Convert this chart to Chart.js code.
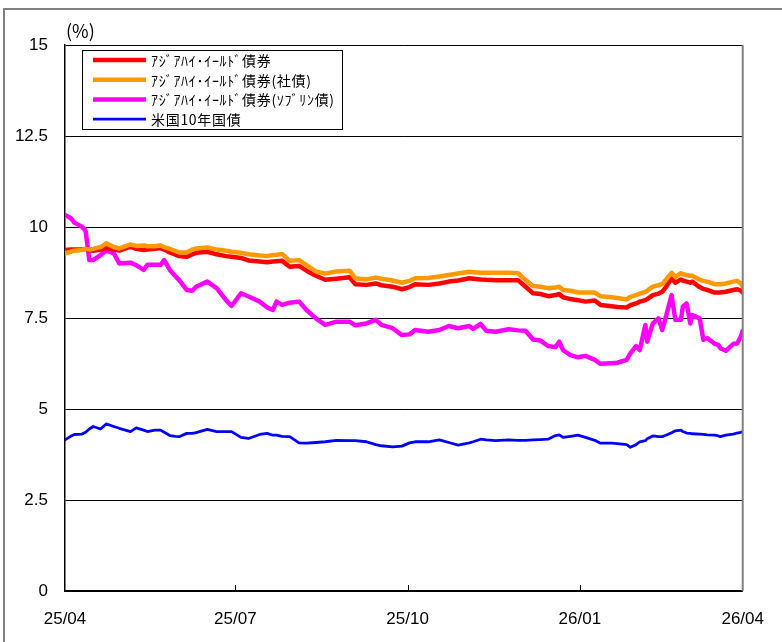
<!DOCTYPE html>
<html><head><meta charset="utf-8">
<script src="https://cdn.jsdelivr.net/npm/chart.js@4"></script>
<style>html,body{margin:0;padding:0;background:#fff;}canvas{display:block;}</style>
</head><body>
<canvas id="c" width="782" height="642"></canvas>
<script>
// x positions: days since 2025-04 start
const days = [0,3,5,9,11,13,15,19,22,26,29,35,38,42,44,48,51,53,56,59,61,65,68,70,76,81,86,89,94,98,104,108,111,113,116,120,125,129,134,139,145,152,155,161,166,169,175,180,184,187,194,200,205,210,216,218,222,225,230,237,242,246,250,254,258,262,264,266,270,274,278,283,286,292,295,300,302,305,307,310,311,314,317,319,321,324,326,329,330,332,334,335,339,341,343,347,349,350,353,357,359,361,362];
const asiaHY = [9.37,9.38,9.38,9.38,9.40,9.36,9.35,9.38,9.43,9.38,9.35,9.46,9.40,9.37,9.38,9.40,9.42,9.38,9.30,9.24,9.20,9.18,9.25,9.29,9.32,9.25,9.20,9.18,9.15,9.08,9.05,9.03,9.05,9.06,9.07,8.91,8.93,8.80,8.66,8.55,8.58,8.62,8.43,8.41,8.45,8.40,8.36,8.29,8.35,8.43,8.41,8.45,8.50,8.53,8.59,8.58,8.56,8.55,8.54,8.54,8.54,8.36,8.18,8.16,8.10,8.13,8.16,8.07,8.02,7.99,7.95,7.98,7.86,7.82,7.80,7.79,7.85,7.90,7.95,7.99,8.02,8.13,8.17,8.22,8.35,8.59,8.47,8.56,8.53,8.50,8.47,8.50,8.35,8.30,8.27,8.20,8.20,8.20,8.22,8.27,8.29,8.25,8.20];
const asiaHYCorp = [9.28,9.32,9.35,9.37,9.40,9.38,9.40,9.45,9.55,9.45,9.41,9.52,9.48,9.49,9.47,9.47,9.49,9.45,9.40,9.34,9.30,9.30,9.38,9.41,9.44,9.38,9.35,9.32,9.29,9.25,9.22,9.20,9.23,9.24,9.26,9.07,9.09,8.95,8.78,8.72,8.78,8.80,8.59,8.56,8.61,8.58,8.53,8.47,8.52,8.59,8.60,8.64,8.68,8.72,8.77,8.76,8.74,8.74,8.74,8.74,8.73,8.54,8.38,8.36,8.32,8.34,8.36,8.27,8.25,8.20,8.20,8.20,8.10,8.07,8.05,8.01,8.08,8.13,8.17,8.22,8.25,8.36,8.40,8.43,8.55,8.74,8.63,8.73,8.70,8.68,8.66,8.66,8.55,8.52,8.50,8.43,8.43,8.43,8.45,8.50,8.52,8.45,8.36];
const asiaHYSov = [10.33,10.25,10.12,10.01,9.90,9.09,9.09,9.23,9.35,9.28,9.00,9.02,8.95,8.82,8.96,8.96,8.96,9.09,8.82,8.65,8.54,8.27,8.25,8.36,8.50,8.32,7.99,7.83,8.18,8.09,7.95,7.79,7.72,7.95,7.86,7.92,7.95,7.72,7.49,7.31,7.40,7.40,7.30,7.35,7.45,7.31,7.22,7.03,7.05,7.17,7.12,7.17,7.28,7.22,7.28,7.20,7.34,7.15,7.12,7.19,7.16,7.15,6.91,6.88,6.73,6.70,6.85,6.62,6.48,6.42,6.46,6.35,6.24,6.26,6.27,6.35,6.53,6.73,6.62,7.31,6.85,7.35,7.49,7.17,7.54,8.13,7.45,7.45,7.81,7.90,7.35,7.58,7.49,6.90,6.95,6.79,6.76,6.67,6.60,6.79,6.80,6.99,7.15];
const ust10y = [4.15,4.25,4.30,4.31,4.36,4.45,4.52,4.45,4.59,4.52,4.47,4.38,4.48,4.42,4.38,4.42,4.42,4.36,4.27,4.25,4.24,4.33,4.33,4.35,4.44,4.38,4.38,4.38,4.22,4.19,4.30,4.33,4.28,4.28,4.25,4.24,4.07,4.06,4.08,4.10,4.14,4.13,4.13,4.10,4.02,3.99,3.96,3.98,4.07,4.10,4.10,4.15,4.08,4.01,4.07,4.10,4.17,4.15,4.13,4.15,4.14,4.14,4.15,4.16,4.17,4.27,4.29,4.22,4.25,4.28,4.22,4.14,4.06,4.06,4.05,4.02,3.95,4.02,4.10,4.13,4.18,4.26,4.24,4.24,4.28,4.35,4.40,4.42,4.38,4.34,4.33,4.32,4.31,4.30,4.29,4.28,4.26,4.24,4.28,4.31,4.34,4.36,4.38];

const seriesNames = ['ｱｼﾞｱﾊｲ･ｲｰﾙﾄﾞ債券','ｱｼﾞｱﾊｲ･ｲｰﾙﾄﾞ債券(社債)','ｱｼﾞｱﾊｲ･ｲｰﾙﾄﾞ債券(ｿﾌﾞﾘﾝ債)','米国10年国債'];
const seriesColors = ['#ff0000','#ff9900','#ff00ff','#0000ff'];
const seriesWidths = [4.5,4.5,4.5,2.8];
const xTickDays = [0,91,183,275,362];
const xTickLabels = ['25/04','25/07','25/10','26/01','26/04'];
const yTicks = [0,2.5,5,7.5,10,12.5,15];
const unitLabel = '(%)';

const seriesValues = [asiaHY, asiaHYCorp, asiaHYSov, ust10y];
const drawOrder = [1,0,2,3];
const datasets = seriesValues.map((vals,i)=>({
  label: seriesNames[i],
  data: days.map((d,k)=>({x:d,y:vals[k]})),
  borderColor: seriesColors[i],
  backgroundColor: seriesColors[i],
  borderWidth: seriesWidths[i],
  pointRadius: 0,
  tension: 0,
  fill: false,
  order: drawOrder[i],
  borderJoinStyle: 'round',
  borderCapStyle: 'round'
}));

const axisFont = {family:'"Liberation Sans", Arial, sans-serif', size:17};

const decor = {
  id:'decor',
  beforeDraw(chart){
    const ctx = chart.ctx;
    ctx.save();
    ctx.strokeStyle = '#808080';
    ctx.lineWidth = 2;
    ctx.beginPath();
    ctx.moveTo(4, 642); ctx.lineTo(4, 9); ctx.lineTo(782, 9);
    ctx.stroke();
    ctx.restore();
  },
  afterDraw(chart){
    const ctx = chart.ctx, ca = chart.chartArea, xs = chart.scales.x;
    ctx.save();
    ctx.strokeStyle = '#808080'; ctx.lineWidth = 2;
    ctx.beginPath(); ctx.moveTo(ca.right, ca.top); ctx.lineTo(ca.right, ca.bottom); ctx.stroke();
    ctx.strokeStyle = '#000'; ctx.lineWidth = 1;
    xTickDays.slice(1,-1).forEach(v=>{
      const x = Math.round(xs.getPixelForValue(v))+0.5;
      ctx.beginPath(); ctx.moveTo(x, ca.bottom); ctx.lineTo(x, ca.bottom-6); ctx.stroke();
    });
    ctx.fillStyle = '#000';
    ctx.font = '18px "Noto Sans CJK JP", sans-serif';
    ctx.textBaseline = 'middle'; ctx.textAlign = 'left';
    ctx.fillText(unitLabel, ca.left+1, 31);
    const bx = ca.left+17, by = ca.top+5, bw = 260, bh = 79;
    ctx.fillStyle = '#fff'; ctx.fillRect(bx, by, bw, bh);
    ctx.strokeStyle = '#000'; ctx.lineWidth = 1;
    ctx.strokeRect(bx+0.5, by+0.5, bw, bh);
    ctx.font = '14px "Noto Sans CJK JP", sans-serif';
    if ('letterSpacing' in ctx) ctx.letterSpacing = '0.7px';
    chart.data.datasets.forEach((ds,i)=>{
      const y = by + 10 + i*19.7;
      ctx.strokeStyle = ds.borderColor; ctx.lineWidth = ds.borderWidth;
      ctx.beginPath(); ctx.moveTo(bx+11, y); ctx.lineTo(bx+64, y); ctx.stroke();
      ctx.fillStyle = '#000';
      ctx.fillText(ds.label, bx+69, y+0.5);
    });
    ctx.restore();
  }
};

new Chart(document.getElementById('c'), {
  type:'line',
  data:{datasets},
  options:{
    responsive:false,
    animation:false,
    events:[],
    layout:{padding:{left:0,top:45,right:37,bottom:0}},
    plugins:{legend:{display:false},tooltip:{enabled:false}},
    scales:{
      x:{
        type:'linear', min:0, max:362,
        afterBuildTicks:s=>{ s.ticks = xTickDays.map(v=>({value:v})); },
        afterFit:s=>{ s.height = 51; },
        ticks:{callback:(v,i)=>xTickLabels[i], autoSkip:false, maxRotation:0, minRotation:0, padding:18, font:axisFont, color:'#000'},
        grid:{display:false, drawTicks:false},
        border:{display:true, color:'#000', width:1.5}
      },
      y:{
        min:0, max:15,
        afterBuildTicks:s=>{ s.ticks = yTicks.map(v=>({value:v})); },
        afterFit:s=>{ s.width = 65; },
        ticks:{callback:v=>String(v), padding:17, font:axisFont, color:'#000'},
        grid:{color:'#000', lineWidth:1, drawTicks:false},
        border:{display:true, color:'#000', width:1.5}
      }
    }
  },
  plugins:[decor]
});
</script>
</body></html>
